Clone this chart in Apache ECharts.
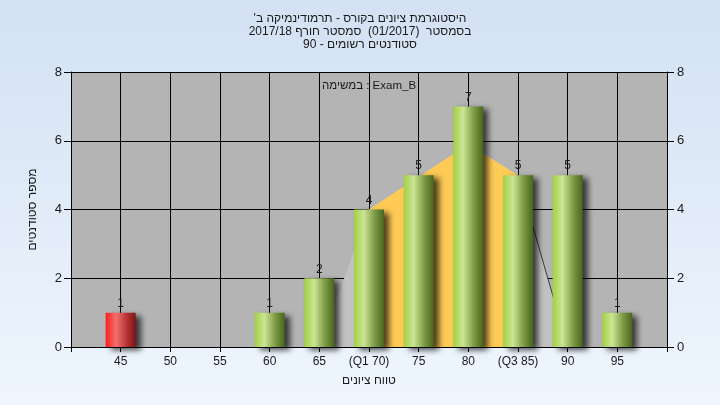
<!DOCTYPE html>
<html>
<head>
<meta charset="utf-8">
<script src="https://cdn.jsdelivr.net/npm/echarts@6/dist/echarts.min.js"></script>
<style>
html,body{margin:0;padding:0;}
#c{width:720px;height:405px;}
</style>
</head>
<body>
<div id="c"></div>
<script>
// ---- data ----
const titleLines = [
  'היסטוגרמת ציונים בקורס - תרמודינמיקה ב\'',
  'בסמסטר  (01/2017)  סמסטר חורף 2017/18',
  'סטודנטים רשומים - 90'
];
const legendText = 'במשימה : Exam_B';
const xAxisName = 'טווח ציונים';
const yAxisName = 'מספר סטודנטים';
const binCenters = [45, 60, 65, 70, 75, 80, 85, 90, 95];
const binCounts  = [1, 1, 2, 4, 5, 7, 5, 5, 1];
const failBins   = [45];
const xTickValues = [45, 50, 55, 60, 65, 70, 75, 80, 85, 90, 95];
const xTickLabels = ['45', '50', '55', '60', '65', '(Q1 70)', '75', '80', '(Q3 85)', '90', '95'];
const curveX = [65, 70, 80, 85, 90];
const curveY = [0, 4, 5.9, 5, 0];
const q1 = 70, q3 = 85;

const RLE = '\u202B', PDF = '\u202C';
const font = '"Liberation Sans", Arial, "DejaVu Sans", sans-serif';

const greenGrad = new echarts.graphic.LinearGradient(0, 0, 1, 0, [
  {offset: 0, color: '#a2d042'},
  {offset: 0.33, color: '#cbe596'},
  {offset: 0.68, color: '#7e9c46'},
  {offset: 1, color: '#48651d'}
]);
const redGrad = new echarts.graphic.LinearGradient(0, 0, 1, 0, [
  {offset: 0, color: '#ff1c1c'},
  {offset: 0.35, color: '#f07070'},
  {offset: 0.7, color: '#b83434'},
  {offset: 1, color: '#7a1414'}
]);

const barData = binCenters.map((x, i) => ({
  value: [x, binCounts[i]],
  itemStyle: {color: failBins.includes(x) ? redGrad : greenGrad}
}));
const curveAll = curveX.map((x, i) => [x, curveY[i]]);
const curveMid = curveAll.filter(p => p[0] >= q1 && p[0] <= q3);
const curveRight = curveAll.filter(p => p[0] >= q3);

const chart = echarts.init(document.getElementById('c'));
chart.setOption({
  animation: false,
  backgroundColor: new echarts.graphic.LinearGradient(0, 0, 0, 1, [
    {offset: 0, color: '#d3e1f3'},
    {offset: 1, color: '#eff6fe'}
  ]),
  title: {
    text: titleLines.map(t => RLE + t + PDF).join('\n'),
    left: 'center',
    top: 7,
    textStyle: {fontFamily: font, fontSize: 12, fontWeight: 'normal', color: '#1a1a1a', lineHeight: 13}
  },
  graphic: [{
    type: 'text',
    left: 322,
    top: 80,
    z: 100,
    style: {text: legendText, font: '11.5px ' + font, fill: '#1a1a1a'}
  }],
  grid: {left: 71, right: 53, top: 72, bottom: 58, show: true, backgroundColor: '#b4b4b4', borderWidth: 0},
  xAxis: {
    type: 'value', min: 40, max: 100, interval: 5,
    name: xAxisName, nameLocation: 'middle', nameGap: 28,
    nameTextStyle: {fontFamily: font, fontSize: 12, color: '#1a1a1a'},
    axisLine: {lineStyle: {color: '#000', width: 1}},
    axisTick: {show: true, length: 5, lineStyle: {color: '#000'}},
    splitLine: {show: true, lineStyle: {color: '#000', width: 1}},
    axisLabel: {
      fontFamily: font, fontSize: 12, color: '#1a1a1a', margin: 9,
      formatter: v => { const i = xTickValues.indexOf(v); return i >= 0 ? xTickLabels[i] : ''; }
    }
  },
  yAxis: [{
    type: 'value', min: 0, max: 8, interval: 2,
    name: yAxisName, nameLocation: 'middle', nameGap: 32, nameRotate: 90,
    nameTextStyle: {fontFamily: font, fontSize: 12, color: '#1a1a1a'},
    axisLine: {show: true, lineStyle: {color: '#000'}},
    axisTick: {show: true, length: 7, lineStyle: {color: '#000'}},
    splitLine: {show: true, lineStyle: {color: '#000', width: 1}},
    axisLabel: {fontFamily: font, fontSize: 13, color: '#1a1a1a', margin: 9}
  }, {
    type: 'value', min: 0, max: 8, interval: 2, position: 'right',
    axisLine: {show: true, lineStyle: {color: '#000'}},
    axisTick: {show: true, length: 7, lineStyle: {color: '#000'}},
    splitLine: {show: false},
    axisLabel: {fontFamily: font, fontSize: 13, color: '#1a1a1a', margin: 10}
  }],
  series: [{
    type: 'line', data: curveAll, symbol: 'none', z: 1,
    lineStyle: {width: 0}, areaStyle: {color: '#c2c2c2', opacity: 1}
  }, {
    type: 'line', data: curveMid, symbol: 'none', z: 2,
    lineStyle: {width: 0}, areaStyle: {color: '#ffcb55', opacity: 1}
  }, {
    type: 'line', data: curveRight, symbol: 'none', z: 3,
    lineStyle: {width: 1, color: '#3a3a3a'}
  }, {
    type: 'bar', data: barData, barWidth: 30, z: 5,
    itemStyle: {shadowColor: 'rgba(0,0,0,0.7)', shadowBlur: 6, shadowOffsetX: 5, shadowOffsetY: 3},
    label: {show: true, position: 'top', distance: 3, fontFamily: font, fontSize: 12, color: '#1a1a1a'}
  }]
});
</script>
</body>
</html>
